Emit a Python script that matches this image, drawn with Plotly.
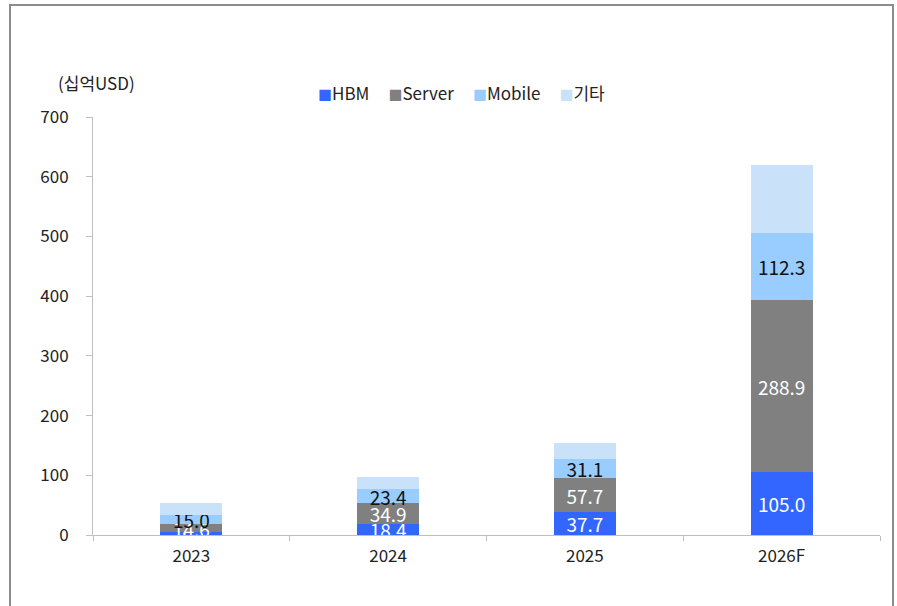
import plotly.graph_objects as go

years = ["2023", "2024", "2025", "2026F"]
hbm = [4.3, 18.4, 37.7, 105.0]
server = [14.6, 34.9, 57.7, 288.9]
mobile = [15.0, 23.4, 31.1, 112.3]
other = [19.0, 20.0, 27.5, 113.6]

FONT = "Noto Sans CJK KR, Noto Sans, sans-serif"

fig = go.Figure()
series = [
    ("HBM", hbm, "#3366ff", "white", True),
    ("Server", server, "#808080", "white", True),
    ("Mobile", mobile, "#99ccff", "#111111", True),
    ("기타", other, "#c9e2fa", "#111111", False),
]
for name, vals, color, tcolor, lab in series:
    fig.add_trace(go.Bar(
        x=years, y=vals, name=name,
        marker=dict(color=color, line=dict(width=0)),
        text=[f"{v:.1f}" for v in vals] if lab else None,
        textposition="inside" if lab else "none",
        insidetextanchor="middle",
        textfont=dict(color=tcolor, size=19, family=FONT),
        hoverinfo="skip",
        showlegend=False,
    ))

fig.update_layout(
    barmode="stack",
    bargap=0.685,
    width=897, height=606,
    margin=dict(l=93, r=17, t=117, b=71),
    plot_bgcolor="white", paper_bgcolor="white",
    font=dict(family=FONT, size=17, color="#222222"),
    uniformtext=dict(minsize=19, mode="show"),
    showlegend=False,
)
fig.update_yaxes(range=[0, 700], dtick=100, showgrid=False, showline=True,
                 linecolor="#bfbfbf", linewidth=1, ticks="outside", ticklen=6,
                 tickcolor="#bfbfbf", tickfont=dict(size=17, color="#222222"),
                 zeroline=False, ticklabelstandoff=14)
fig.update_xaxes(showgrid=False, showline=True, linecolor="#bfbfbf", linewidth=1,
                 ticks="outside", tickson="boundaries", ticklen=5, tickcolor="#bfbfbf",
                 tickfont=dict(size=17, color="#222222"), ticklabelstandoff=6)

legend_text = "     ".join(
    f"<span style='color:{c};font-size:14px'>■</span>{n}" for n, _, c, _, _ in series
)
fig.add_annotation(text=legend_text, xref="paper", yref="paper",
                   x=(461 - 93) / 787, y=(535 - 92) / 418,
                   xanchor="center", yanchor="middle", showarrow=False,
                   font=dict(size=17, color="#222222"))

fig.add_annotation(text="(십억USD)", xref="paper", yref="paper",
                   x=(96 - 93) / 787, y=(535 - 82) / 418, xanchor="center", yanchor="middle",
                   showarrow=False, font=dict(size=17, color="#222222"))

fig.add_shape(type="rect", xref="paper", yref="paper",
              x0=(10 - 93) / 787, x1=(893 - 93) / 787,
              y0=(535 - 620) / 418, y1=(535 - 5) / 418,
              line=dict(color="#8c8c8c", width=2), layer="below")

fig.write_html(
    "out.html",
    config={"displayModeBar": False},
    post_script="document.body.style.margin='0';document.body.style.overflow='hidden';",
)
